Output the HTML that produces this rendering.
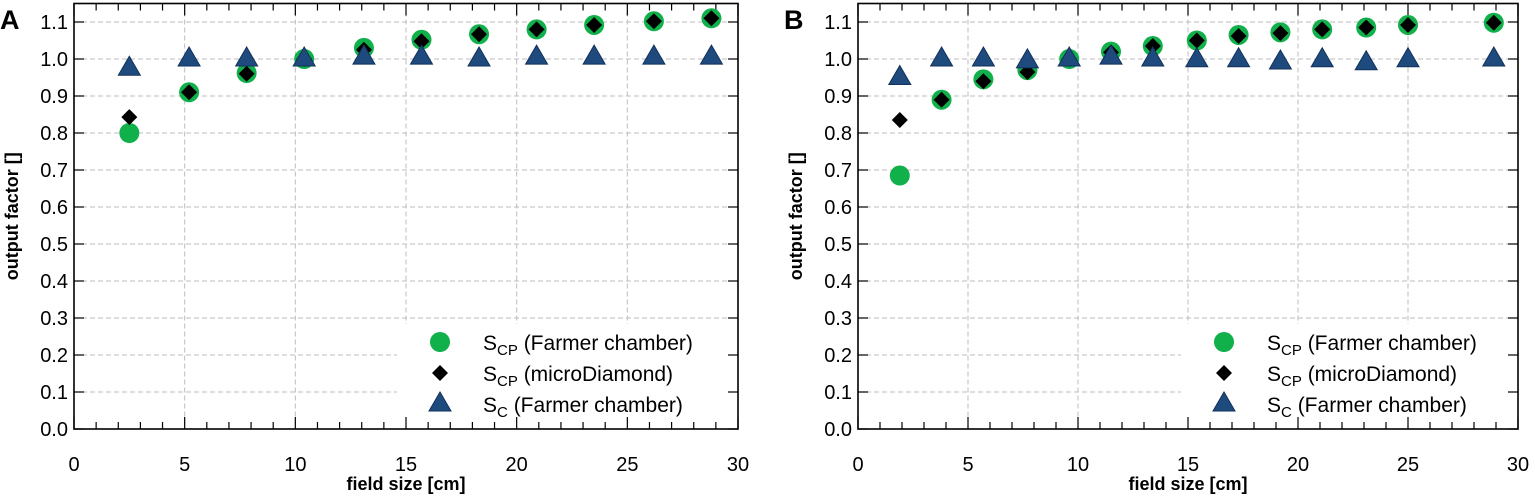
<!DOCTYPE html>
<html><head><meta charset="utf-8"><style>
body{margin:0;background:#fff}
svg{display:block;font-family:"Liberation Sans",sans-serif}
</style></head><body>
<svg id="chart" width="1535" height="496" viewBox="0 0 1535 496"></svg>
<script>
const aX=[2.5,5.2,7.8,10.4,13.1,15.7,18.3,20.9,23.5,26.2,28.8];
const aFarmer=[0.80,0.91,0.962,1.0,1.03,1.052,1.067,1.08,1.092,1.102,1.11];
const aDiamond=[0.843,0.91,0.96,1.0,1.025,1.048,1.067,1.08,1.092,1.102,1.11];
const aSc=[0.975,1.0,1.0,1.0,1.005,1.005,1.0,1.005,1.005,1.005,1.005];
const bX=[1.9,3.8,5.7,7.7,9.6,11.5,13.4,15.4,17.3,19.2,21.1,23.1,25.0,28.9];
const bFarmer=[0.685,0.89,0.945,0.97,1.0,1.02,1.035,1.05,1.065,1.072,1.08,1.085,1.092,1.098];
const bDiamond=[0.835,0.89,0.94,0.965,1.0,1.018,1.035,1.05,1.062,1.07,1.08,1.085,1.092,1.098];
const bSc=[0.95,1.0,1.0,0.995,1.0,1.005,1.0,0.998,0.998,0.992,0.998,0.99,0.998,1.0];
const xTicks=[0,5,10,15,20,25,30];
const yTicks=[0,0.1,0.2,0.3,0.4,0.5,0.6,0.7,0.8,0.9,1.0,1.1];
const legendLabels=[["S","CP"," (Farmer chamber)"],["S","CP"," (microDiamond)"],["S","C"," (Farmer chamber)"]];
const NS="http://www.w3.org/2000/svg";
const svg=document.getElementById('chart');
function mk(tag,attrs,parent){const e=document.createElementNS(NS,tag);for(const k in attrs)e.setAttribute(k,attrs[k]);(parent||svg).appendChild(e);return e;}
const GREEN="#10b04a",NAVY="#1f4a7e",NAVYS="#12325a";
function panel(letter,L,R,xs,f,d,s){
  const T=3.5,B=429;
  const sx=v=>L+(R-L)*v/30, sy=v=>B-(B-T)*v/1.15;
  const g=mk('g',{});
  
  
  xTicks.slice(1,-1).forEach(v=>{const l=mk('line',{x1:sx(v),x2:sx(v),y1:T,y2:B,stroke:'#bdbdbd','stroke-dasharray':'5,3','stroke-width':1},g);});
  yTicks.slice(1).forEach(v=>{const l=mk('line',{x1:L,x2:R,y1:sy(v),y2:sy(v),stroke:'#bdbdbd','stroke-dasharray':'5,3','stroke-width':1},g);});
  const lg=mk('g',{},g);
  
  
  mk('rect',{x:L+323,y:324,width:R-L-325,height:104,fill:'#fff'},lg);
  for(let v=0;v<=30;v++){const len=v%5==0?12:7;
    mk('line',{x1:sx(v),x2:sx(v),y1:B,y2:B-len,stroke:'#000','stroke-width':1.2},g);
    mk('line',{x1:sx(v),x2:sx(v),y1:T,y2:T+len,stroke:'#000','stroke-width':1.2},g);}
  yTicks.forEach(v=>{mk('line',{x1:L,x2:L+10,y1:sy(v),y2:sy(v),stroke:'#000','stroke-width':1.2},g);mk('line',{x1:R,x2:R-10,y1:sy(v),y2:sy(v),stroke:'#000','stroke-width':1.2},g);});
  const fr=mk('rect',{x:L,y:T,width:R-L,height:B-T,fill:'none',stroke:'#000','stroke-width':1.6},g);
  
  xTicks.forEach(v=>{const t=mk('text',{x:sx(v),y:471,'font-size':20,'text-anchor':'middle'},g);t.textContent=v;});
  yTicks.forEach(v=>{const t=mk('text',{x:L-6,y:sy(v)+7,'font-size':20,'text-anchor':'end'},g);t.textContent=v.toFixed(1);});
  const xt=mk('text',{x:(L+R)/2,y:490,'font-size':18,'font-weight':'bold','text-anchor':'middle'},g);xt.textContent='field size [cm]';
  
  const yt=mk('text',{x:0,y:0,'font-size':18,'font-weight':'bold','text-anchor':'middle',transform:`translate(${L-56},${(T+B)/2}) rotate(-90)`},g);yt.textContent='output factor []';
  
  const pl=mk('text',{x:L-74,y:29,'font-size':27,'font-weight':'bold'},g);pl.textContent=letter;
  
  const circ=(x,y,p)=>mk('ellipse',{cx:x,cy:y,rx:10,ry:10,fill:GREEN},p);
  const dia=(x,y,p)=>mk('path',{d:`M${x},${y-8}L${x+8},${y}L${x},${y+8}L${x-8},${y}Z`,fill:'#000'},p);
  const tri=(x,y,p)=>mk('path',{d:`M${x},${y-12}L${x+11},${y+7}L${x-11},${y+7}Z`,fill:NAVY,stroke:NAVYS,'stroke-width':1},p);
  xs.forEach((v,i)=>{const c=circ(sx(v),sy(f[i]),g);});
  xs.forEach((v,i)=>{const c=dia(sx(v),sy(d[i]),g);});
  xs.forEach((v,i)=>{const c=tri(sx(v),sy(s[i]),g);});
  const mx=L+366, tx=L+409, rows=[342,373,404];
  [circ,dia,tri].forEach((fn,i)=>{fn(mx,rows[i],lg);
    const t=mk('text',{x:tx,y:rows[i]+8,'font-size':21},lg);
    
    const a=mk('tspan',{},t);a.textContent=legendLabels[i][0];
    const b=mk('tspan',{'font-size':15,dy:5},t);b.textContent=legendLabels[i][1];
    const c=mk('tspan',{dy:-5},t);c.textContent=legendLabels[i][2];});
}
panel('A',74,738,aX,aFarmer,aDiamond,aSc);
panel('B',858,1518,bX,bFarmer,bDiamond,bSc);
</script>
</body></html>
